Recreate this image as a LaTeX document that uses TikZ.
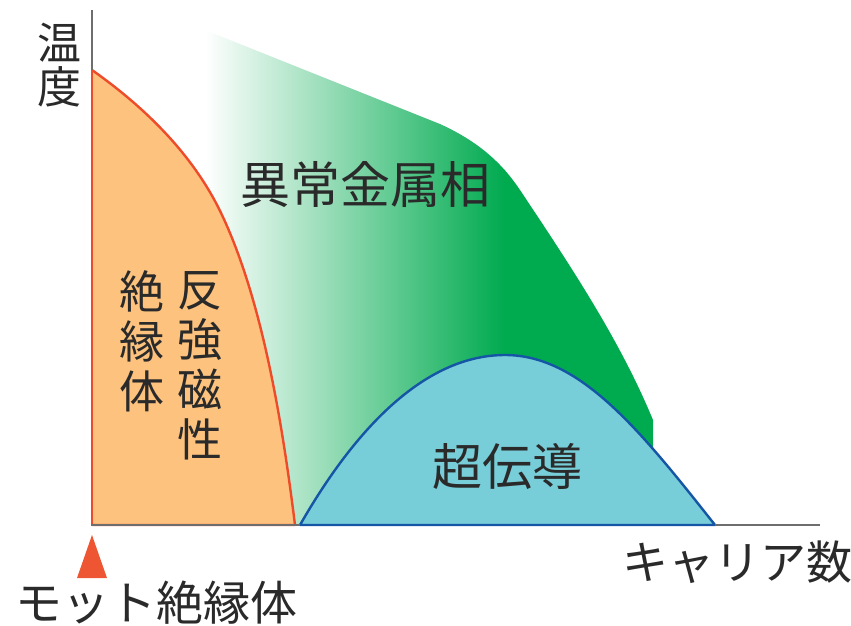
\documentclass[tikz,border=0pt]{standalone}
\usepackage{fontspec}
\setmainfont{Noto Sans CJK JP}
\definecolor{axisgray}{HTML}{6E6E6E}
\definecolor{orfill}{HTML}{FCC27E}
\definecolor{oredge}{HTML}{EE4B2B}
\definecolor{grn}{HTML}{00AA4F}
\definecolor{blfill}{HTML}{77CDD8}
\definecolor{bledge}{HTML}{1555A5}
\definecolor{tri}{HTML}{EE5533}
\definecolor{txt}{HTML}{2A2A2A}
\begin{document}
\begin{tikzpicture}[x=1pt,y=-1pt,
  lbl/.style={text=txt,inner sep=0pt,font=\fontsize{40}{40}\selectfont},
  vlbl/.style={lbl,align=center,font=\fontsize{45}{50}\selectfont}]
\useasboundingbox (0,0) rectangle (851,625);
% green region with gradient
\begin{scope}
\clip (200,28) -- (440,124) .. controls (475,140) and (500,160) .. (520,190)
  .. controls (570,265) and (620,340) .. (653,420) -- (653,525) -- (200,525) -- cycle;
\shade[left color=white,right color=grn] (205,0) rectangle (505,530);
\fill[grn] (504,0) rectangle (700,530);
\end{scope}
% orange region
\def\orcurve{(92,70) .. controls (160,118) and (200,168) .. (222,215) .. controls (262,300) and (282,420) .. (295,525)}
\fill[orfill] \orcurve -- (92,525) -- cycle;
\draw[oredge,line width=2.4pt,line join=round] \orcurve -- (92,525);
% blue dome
\def\blcurve{(300,525) .. controls (360,420) and (430,355) .. (505,355) .. controls (580,355) and (640,430) .. (715,525)}
\fill[blfill] \blcurve -- cycle;
\draw[bledge,line width=2.4pt,line join=round] \blcurve -- cycle;
% axes
\coordinate (o) at (92,525);
\coordinate (ytop) at (92,10);
\coordinate (xend) at (820,525);
\draw[axisgray,line width=2.4pt] (ytop) -- (o) -- (xend);
\draw[oredge,line width=2.4pt] (92,70) -- (92,524);
\draw[bledge,line width=2.4pt] (300,525) -- (715,525);
% triangle marker
\fill[tri] (92,535) coordinate (tritop) -- (107,578) -- (77,578) -- cycle;
% labels
\node[vlbl,font=\fontsize{44}{44}\selectfont] (temp) at (59,65) {温\\度};
\node[vlbl] (ins) at (142,341) {絶\\縁\\体};
\node[vlbl] (afm) at (200,366) {反\\強\\磁\\性};
\node[lbl,font=\fontsize{50}{50}\selectfont] (sm) at (365,185) {異常金属相};
\node[lbl,font=\fontsize{50}{50}\selectfont] (sc) at (507,466) {超伝導};
\node[lbl,font=\fontsize{46}{46}\selectfont] (carrier) at (737,562) {キャリア数};
\node[lbl,font=\fontsize{47}{47}\selectfont] (mott) at (156,603) {モット絶縁体};
\end{tikzpicture}
\end{document}
